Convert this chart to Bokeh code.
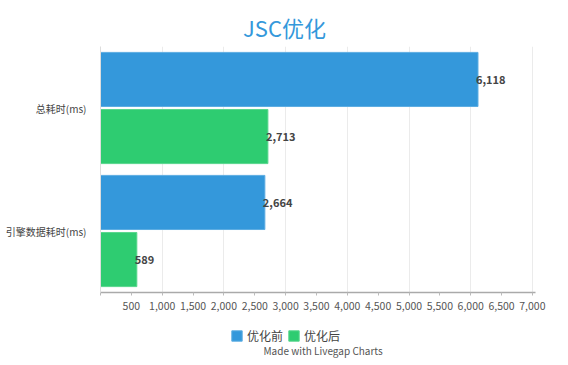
from bokeh.plotting import figure
from bokeh.layouts import column
from bokeh.models import (ColumnDataSource, FactorRange, Range1d, FixedTicker,
                          NumeralTickFormatter, Legend, LegendItem, Label)
from bokeh.transform import dodge
from bokeh.embed import file_html
from bokeh.resources import INLINE
from bokeh.core.properties import value

categories = ["总耗时(ms)", "引擎数据耗时(ms)"]
series_names = ["优化前", "优化后"]
before_values = [6118, 2664]
after_values = [2713, 589]
x_ticks = [0, 500, 1000, 1500, 2000, 2500, 3000, 3500, 4000, 4500, 5000, 5500, 6000, 6500, 7000]
grid_ticks = [1000, 2000, 3000, 4000, 5000, 6000, 7000]

FONT = "Noto Sans CJK SC"
BLUE = "#3498db"
GREEN = "#2ecc71"
BLUE_EDGE = "#5dade2"
GREEN_EDGE = "#58d68d"


def strip(height):
    f = figure(width=568, height=height, output_backend="svg", toolbar_location=None,
               x_range=Range1d(100, 535), y_range=Range1d(0, height),
               x_axis_location=None, y_axis_location=None,
               min_border_left=100, min_border_right=33, min_border_top=0,
               min_border_bottom=0)
    f.outline_line_color = None
    f.xgrid.grid_line_color = None
    f.ygrid.grid_line_color = None
    return f


# title strip
p0 = strip(46)
p0.add_layout(Label(x=284, y=20, text="JSC优化", text_align="center",
                    text_baseline="middle", text_font=FONT, text_font_size="22px",
                    text_color=BLUE))

# main chart
src_before = ColumnDataSource(dict(cat=categories, v=before_values,
                                   lbl=[f"{v:,}" for v in before_values]))
src_after = ColumnDataSource(dict(cat=categories, v=after_values,
                                  lbl=[f"{v:,}" for v in after_values]))

p = figure(width=568, height=274, output_backend="svg", toolbar_location=None,
           y_range=FactorRange(factors=categories[::-1]),
           x_range=Range1d(0, 7050),
           min_border_left=100, min_border_right=33, min_border_top=0, min_border_bottom=28)
p.outline_line_color = None
p.background_fill_color = "white"

p.hbar(y=dodge("cat", 0.232, range=p.y_range), right="v", left=0, height=0.44,
       source=src_before, fill_color=BLUE, line_color=BLUE_EDGE, line_width=1)
p.hbar(y=dodge("cat", -0.232, range=p.y_range), right="v", left=0, height=0.44,
       source=src_after, fill_color=GREEN, line_color=GREEN_EDGE, line_width=1)

for src, off in ((src_before, 0.232), (src_after, -0.232)):
    p.text(x="v", y=dodge("cat", off, range=p.y_range), text="lbl", source=src,
           text_align="left", text_baseline="middle", x_offset=-2,
           text_font=value(FONT), text_font_size="11px", text_font_style="bold",
           text_color="#444444")

# x axis
p.xaxis.ticker = FixedTicker(ticks=x_ticks)
p.xaxis.formatter = NumeralTickFormatter(format="0,0")
p.xaxis.major_label_overrides = {0: ""}
p.xaxis.minor_tick_line_color = None
p.xaxis.major_tick_in = 0
p.xaxis.major_tick_out = 3
p.xaxis.major_tick_line_color = "#bbbbbb"
p.xaxis.axis_line_color = "#aaaaaa"
p.xaxis.axis_line_width = 1.5
p.xaxis.major_label_text_font = FONT
p.xaxis.major_label_text_font_size = "10.5px"
p.xaxis.major_label_text_color = "#555555"
p.xaxis.major_label_standoff = 6

p.xgrid.ticker = FixedTicker(ticks=grid_ticks)
p.xgrid.grid_line_color = "#ebebeb"
p.ygrid.grid_line_color = None

# y axis
p.yaxis.axis_line_color = "#dddddd"
p.yaxis.major_tick_line_color = None
p.yaxis.minor_tick_line_color = None
p.yaxis.major_label_text_font = FONT
p.yaxis.major_label_text_font_size = "10px"
p.yaxis.major_label_text_color = "#444444"
p.yaxis.major_label_standoff = 8

# legend + footer strip
p2 = strip(45)
off_src = ColumnDataSource(dict(y=[-100], v=[-50]))
k1 = p2.hbar(y="y", right="v", left=-60, height=1, source=off_src,
             fill_color=BLUE, line_color=BLUE_EDGE)
k2 = p2.hbar(y="y", right="v", left=-60, height=1, source=off_src,
             fill_color=GREEN, line_color=GREEN_EDGE)

legend = Legend(items=[LegendItem(label=series_names[0], renderers=[k1]),
                       LegendItem(label=series_names[1], renderers=[k2])],
                location=(130, 21), orientation="horizontal",
                glyph_width=13, glyph_height=13, label_standoff=4, spacing=4,
                padding=0, margin=0, border_line_color=None,
                background_fill_alpha=0, label_text_font=FONT,
                label_text_font_size="12px", label_text_color="#444444",
                label_height=13, label_text_baseline="middle")
p2.add_layout(legend, "center")

p2.add_layout(Label(x=263, y=15, text="Made with Livegap Charts", text_align="left",
                    text_baseline="middle", text_font=FONT, text_font_size="10px",
                    text_color="#555555"))

layout = column(p0, p, p2, spacing=0)
open("out.html", "w").write(file_html(layout, INLINE))
